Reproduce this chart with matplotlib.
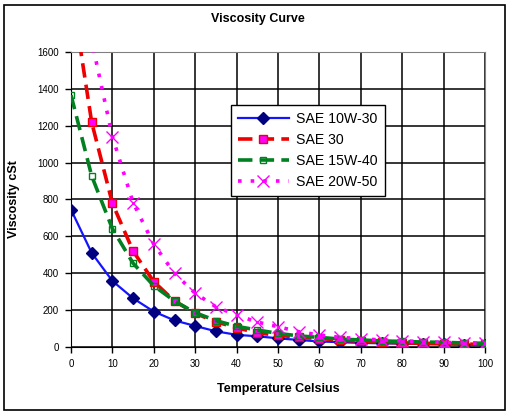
import numpy as np
import matplotlib
matplotlib.use('Agg')
import matplotlib.pyplot as plt
from matplotlib.patches import Rectangle

plt.rcParams['font.family'] = ['Liberation Sans', 'DejaVu Sans']

# temperature (deg C) and viscosity (cSt)
temp = [0, 5, 10, 15, 20, 25, 30, 35, 40, 45, 50, 55, 60, 65, 70, 75, 80, 85, 90, 95, 100]
sae_10w30 = [745, 510, 358, 264, 192, 144, 114, 85, 66, 58, 47, 38, 30, 26, 22, 20, 18, 16, 14, 12, 10]
sae_30 = [1950, 1218, 779, 520, 354, 249, 183, 136, 105, 76, 64, 52, 46, 38, 30, 26, 22, 20, 18, 16, 14]
sae_15w40 = [1366, 927, 641, 454, 332, 249, 186, 143, 112, 92, 74, 60, 52, 43, 38, 33, 30, 27, 25, 22, 20]
sae_20w50 = [2400, 1660, 1140, 782, 557, 399, 291, 218, 173, 135, 110, 83, 65, 52, 45, 38, 33, 29, 25, 22, 20]

fig = plt.figure(figsize=(5.12, 4.15), dpi=100)
fig.patches.append(Rectangle((0.008, 0.012), 0.979, 0.976, transform=fig.transFigure,
                             fill=False, edgecolor='black', linewidth=1.2))

ax = fig.add_axes([0.1387, 0.1639, 0.8086, 0.7108])

ax.plot(temp, sae_10w30, color='#1414ff', linewidth=1.6, marker='D', markersize=6,
        markerfacecolor='#000080', markeredgecolor='#000080', label='SAE 10W-30', zorder=3)
ax.plot(temp, sae_30, color='#ee0000', linewidth=2.6, linestyle=(0, (4, 2)), marker='s', markersize=6,
        markerfacecolor='#ff00ff', markeredgecolor='#ee0000', label='SAE 30', zorder=4)
ax.plot(temp, sae_15w40, color='#008020', linewidth=2.6, linestyle=(0, (4, 2)), marker='s', markersize=5,
        markerfacecolor='none', markeredgecolor='#008020', label='SAE 15W-40', zorder=5)
ax.plot(temp, sae_20w50, color='#ff00ff', linewidth=2.6, linestyle=(0, (1, 2.5)), marker='x', markersize=8,
        markeredgewidth=1.0, markeredgecolor='#ff00ff', label='SAE 20W-50', zorder=6)

ax.set_xlim(0, 100)
ax.set_ylim(0, 1600)
ax.set_xticks(np.arange(0, 101, 10))
ax.set_yticks(np.arange(0, 1601, 200))
ax.grid(True, color='black', linewidth=1.1)
ax.set_axisbelow(True)
ax.tick_params(labelsize=7, direction='out', length=4, width=1, pad=5)
for s in ['top', 'right']:
    ax.spines[s].set_color('#808080')
for s in ['left', 'bottom']:
    ax.spines[s].set_color('black')

ax.set_xlabel('Temperature Celsius', fontsize=9, fontweight='bold', labelpad=10)
ax.set_ylabel('Viscosity cSt', fontsize=9, fontweight='bold', labelpad=12)
fig.text(0.504, 0.955, 'Viscosity Curve', fontsize=9, fontweight='bold', ha='center', va='center')

leg = ax.legend(loc='upper left', bbox_to_anchor=(0.369, 0.845), fontsize=10.2, frameon=True,
                fancybox=False, edgecolor='black', framealpha=1, handlelength=3.6,
                borderpad=0.5, labelspacing=0.5, handletextpad=0.5)
leg.get_frame().set_linewidth(1.0)

fig.savefig('out.png', dpi=100)
